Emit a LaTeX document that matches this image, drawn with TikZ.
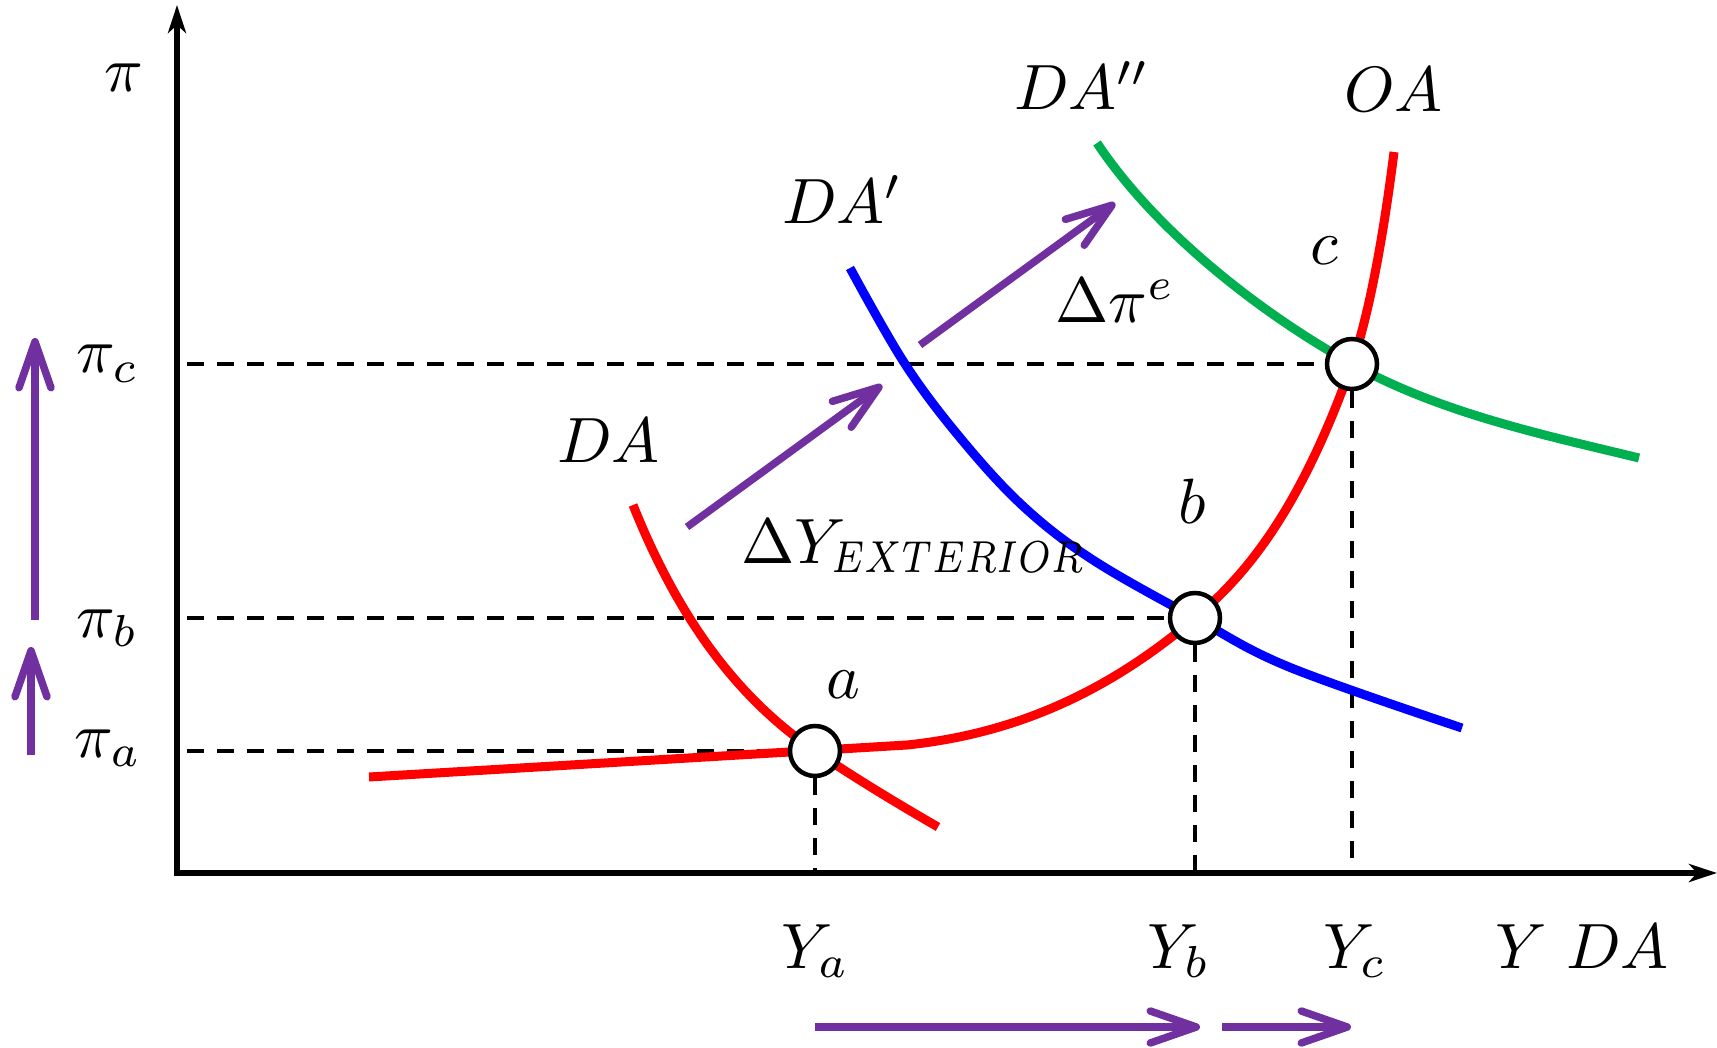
\documentclass[tikz,border=0pt]{standalone}
\usepackage{graphicx}
\usetikzlibrary{arrows.meta}
\definecolor{cred}{RGB}{255,0,0}
\definecolor{cblue}{RGB}{0,0,255}
\definecolor{cgreen}{RGB}{0,176,80}
\definecolor{cpurple}{RGB}{112,48,160}
\newcommand{\myhugemath}[1]{\scalebox{6.4}{$#1$}}
\begin{document}
\begin{tikzpicture}[x=1pt,y=-1pt,
  lbl/.style={inner sep=0pt, anchor=base west},
  curve/.style={line width=9pt},
  dsh/.style={line width=4pt, dash pattern=on 17pt off 13pt},
  ptshape/.style={circle, minimum size=50pt, inner sep=0pt, line width=4.5pt},
  pt/.style={ptshape, draw=black, fill=white},
  axis/.style={line width=5.5pt, {Stealth[length=28pt,width=18pt,inset=8pt]}-{Stealth[length=28pt,width=18pt,inset=8pt]}},
  parr/.style={cpurple, line width=7.5pt, -{Straight Barb[length=46pt,width=32pt,round]}},
]
\useasboundingbox (0,0) rectangle (1717,1048);

% reference points
\node[ptshape] (a) at (815,751) {};
\node[ptshape] (b) at (1195,618) {};
\node[ptshape] (c) at (1352,364) {};
\coordinate (O) at (177,873);
\coordinate (ytop) at (177,5);
\coordinate (xend) at (1717,873);
\coordinate (pa) at (187,751);
\coordinate (pb) at (187,618);
\coordinate (pc) at (187,364);

% dashed guides
\draw[dsh] (pc) -- (c);
\draw[dsh] (pb) -- (b);
\draw[dsh] (pa) -- (a);
\draw[dsh] (a.south) -- (a |- O);
\draw[dsh] (b.south) -- (b |- O);
\draw[dsh] (c.south) -- (c |- O);

% axes
\draw[axis] (ytop) -- (O) -- (xend);

% curves
\draw[curve,cred] (633,505) .. controls (683,630) and (745,703) .. (a.center)
                  .. controls (855,778) and (898,804) .. (938,827);
\draw[curve,cred] (369,777) -- (907,745)
                  .. controls (1003,735) and (1099,700) .. (b.center)
                  .. controls (1247,574) and (1300,510) .. (c.center)
                  .. controls (1372,306) and (1386,216) .. (1394,152);
\draw[curve,cblue] plot[smooth,tension=0.6] coordinates {(850,268) (905,364) (962,440) (1024,507) (1093,560) (1195,618) (1289,667) (1462,728)};
\draw[curve,cgreen] (1097,143) .. controls (1157,233) and (1262,314) .. (c.center)
                    .. controls (1442,414) and (1549,436) .. (1639,458);

% points
\node[pt] (a2) at (a) {};
\node[pt] (b2) at (b) {};
\node[pt] (c2) at (c) {};

% purple arrows
\coordinate (d1s) at (687,527); \coordinate (d1e) at (882,385);
\coordinate (d2s) at (920,345); \coordinate (d2e) at (1115,203);
\coordinate (l1s) at (35,620); \coordinate (l1e) at (35,338);
\coordinate (l2s) at (31,755); \coordinate (l2e) at (31,647);
\coordinate (h1s) at (815,1027); \coordinate (h1e) at (1200,1027);
\coordinate (h2s) at (1222,1027); \coordinate (h2e) at (1351,1027);
\draw[parr] (d1s) -- (d1e);
\draw[parr] (d2s) -- (d2e);
\draw[parr] (l1s) -- (l1e);
\draw[parr] (l2s) -- (l2e);
\draw[parr] (h1s) -- (h1e);
\draw[parr] (h2s) -- (h2e);

% labels
\node[lbl] (tpi) at (104,92) {\myhugemath{\pi}};
\node[lbl] (tpc) at (76,373) {\myhugemath{\pi_c}};
\node[lbl] (tpb) at (76,637) {\myhugemath{\pi_b}};
\node[lbl] (tpa) at (74,757) {\myhugemath{\pi_a}};
\node[lbl] (tya) at (781,968) {\myhugemath{Y_a}};
\node[lbl] (tyb) at (1147,968) {\myhugemath{Y_b}};
\node[lbl] (tyc) at (1323,968) {\myhugemath{Y_c}};
\node[lbl] (ty) at (1495,968) {\myhugemath{Y}};
\node[lbl] (tda0) at (1566,968) {\myhugemath{DA}};
\node[lbl] (tda) at (557,463) {\myhugemath{DA}};
\node[lbl] (tda1) at (782,224) {\myhugemath{DA'}};
\node[lbl] (tda2) at (1014,110) {\myhugemath{DA''}};
\node[lbl] (toa) at (1344,112) {\myhugemath{OA}};
\node[lbl] (ta) at (826,698) {\myhugemath{a}};
\node[lbl] (tb) at (1178,523) {\myhugemath{b}};
\node[lbl] (tc) at (1310,265) {\myhugemath{c}};
\node[lbl] (tdy) at (741,563) {\myhugemath{\Delta Y_{\scalebox{0.82}[1]{$\scriptstyle EXTERIOR$}}}};
\node[lbl] (tdp) at (1055,323) {\myhugemath{\Delta\pi^e}};
\end{tikzpicture}
\end{document}
